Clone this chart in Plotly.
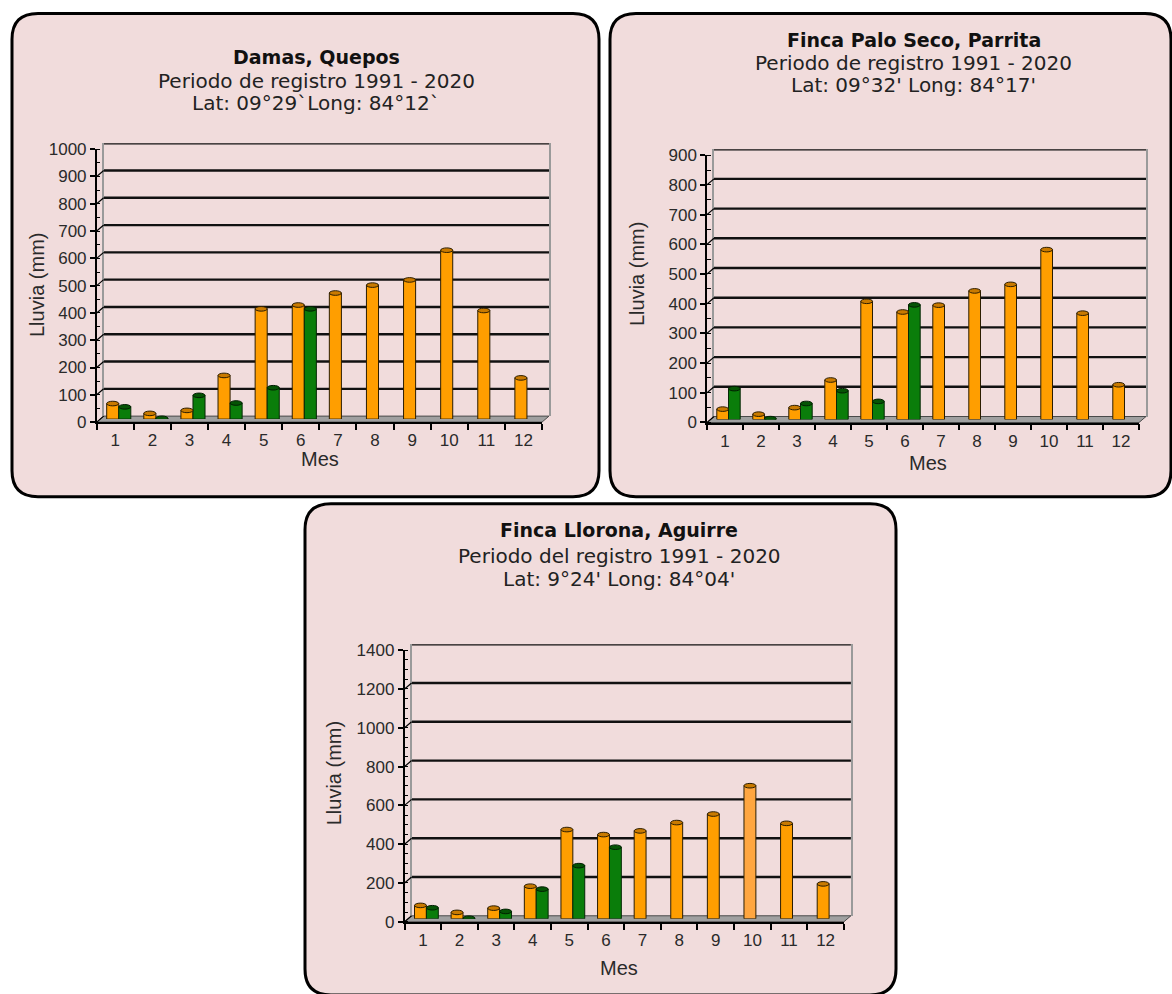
import plotly.graph_objects as go

# ---- data: monthly rainfall (mm) ----
MESES = [1, 2, 3, 4, 5, 6, 7, 8, 9, 10, 11, 12]
MES_LABELS = ["1", "2", "3", "4", "5", "6", "7", "8", "9", "10", "11", "12"]

damas_naranja = [57, 21, 32, 160, 404, 418, 462, 491, 510, 619, 398, 151]
damas_verde = [45, 3, 87, 59, 115, 404, None, None, None, None, None, None]

palo_naranja = [35, 18, 40, 133, 398, 362, 385, 433, 455, 572, 358, 117]
palo_verde = [104, 3, 54, 97, 61, 386, None, None, None, None, None, None]

llorona_naranja = [69, 33, 55, 168, 460, 434, 453, 496, 540, 686, 492, 180]
llorona_verde = [57, 3, 38, 153, 274, 369, None, None, None, None, None, None]

TITULOS = [
    ("Damas, Quepos", "Periodo de registro 1991 - 2020", "Lat: 09°29`Long: 84°12`"),
    ("Finca Palo Seco, Parrita", "Periodo de registro 1991 - 2020", "Lat: 09°32' Long: 84°17'"),
    ("Finca Llorona, Aguirre", "Periodo del registro 1991 - 2020", "Lat: 9°24' Long: 84°04'"),
]

# ---- page geometry (pixels) ----
W, H = 1172, 994
PAGE_TOP, PAGE_SCALE = 8.6, 0.9823   # vertical placement of the page content
DX, DY = 7, 6                        # depth offset of the back wall
BARGAP = 0.35
PINK = "#F1DCDC"
NARANJA = "#FF9E00"
VERDE = "#0A7D0A"

paneles = [
    dict(box=(12, 13, 599, 497), plot=(96.7, 542, 149, 422.3), top=1000, dtick=100,
         naranja=damas_naranja, verde=damas_verde,
         title_x=316, title_y=(57, 81, 103), ytitle=(37, 285), xtitle=(320, 459)),
    dict(box=(610, 13, 1171, 497), plot=(707, 1139, 155, 422.7), top=900, dtick=100,
         naranja=palo_naranja, verde=palo_verde,
         title_x=914, title_y=(40, 63, 85), ytitle=(637, 274), xtitle=(928, 463)),
    dict(box=(305, 504, 896, 996), plot=(404.6, 843.9, 650.7, 922.7), top=1400, dtick=200,
         naranja=llorona_naranja, verde=llorona_verde,
         title_x=619, title_y=(530, 556, 579), ytitle=(334, 774), xtitle=(619, 969)),
]


def fx(x):
    return x / W


def fy(y):
    return 1 - ((y - PAGE_TOP) / PAGE_SCALE) / H


def rounded_rect(x0, y0, x1, y1, r):
    pts = [
        f"M{fx(x0 + r)},{fy(y0)}",
        f"L{fx(x1 - r)},{fy(y0)}",
        f"Q{fx(x1)},{fy(y0)} {fx(x1)},{fy(y0 + r)}",
        f"L{fx(x1)},{fy(y1 - r)}",
        f"Q{fx(x1)},{fy(y1)} {fx(x1 - r)},{fy(y1)}",
        f"L{fx(x0 + r)},{fy(y1)}",
        f"Q{fx(x0)},{fy(y1)} {fx(x0)},{fy(y1 - r)}",
        f"L{fx(x0)},{fy(y0 + r)}",
        f"Q{fx(x0)},{fy(y0)} {fx(x0 + r)},{fy(y0)}",
        "Z",
    ]
    return " ".join(pts)


def ax(n):
    return "" if n == 1 else str(n)


fig = go.Figure()
layout = dict(
    width=W, height=H, margin=dict(l=0, r=0, t=0, b=0),
    paper_bgcolor="white", plot_bgcolor="rgba(0,0,0,0)",
    showlegend=False, barmode="group", bargap=BARGAP, bargroupgap=0,
)
shapes = []
annotations = []

tick_font = dict(family="Liberation Sans, Arial, sans-serif", size=17, color="#2a2a2a")
title_family = "DejaVu Sans, Verdana, sans-serif"
label_family = "Liberation Sans, Arial, sans-serif"

for i, p in enumerate(paneles):
    L, R, T, B = p["plot"]
    top = p["top"]
    n_back, n_mid, n_front = 3 * i + 1, 3 * i + 2, 3 * i + 3
    xb, yb = f"x{ax(n_back)}", f"y{ax(n_back)}"
    xm, ym = f"x{ax(n_mid)}", f"y{ax(n_mid)}"
    xf, yf = f"x{ax(n_front)}", f"y{ax(n_front)}"

    # panel background with rounded border
    bx0, by0, bx1, by1 = p["box"]
    shapes.append(dict(type="path", xref="paper", yref="paper", layer="below",
                       path=rounded_rect(bx0, by0, bx1, by1, 26),
                       fillcolor=PINK, line=dict(color="black", width=3)))
    # floor of the 3D box
    floor = (f"M{fx(L)},{fy(B)} L{fx(R)},{fy(B)} L{fx(R + DX)},{fy(B - DY)} "
             f"L{fx(L + DX)},{fy(B - DY)} Z")
    shapes.append(dict(type="path", xref="paper", yref="paper", layer="below",
                       path=floor, fillcolor="#A0A0A0", line=dict(color="#4a4a4a", width=1)))

    # back wall: grey side edges, black gridlines
    layout[f"xaxis{ax(n_back)}"] = dict(
        domain=[fx(L + DX), fx(R + DX)], range=[0.5, 12.5], anchor=yb,
        visible=False, fixedrange=True)
    layout[f"yaxis{ax(n_back)}"] = dict(
        domain=[fy(B - DY), fy(T - DY)], range=[0, top], anchor=xb,
        showgrid=False, showline=True, linecolor="#9a9a9a", linewidth=2, mirror=True,
        showticklabels=False, ticks="", zeroline=False, fixedrange=True)
    fig.add_trace(go.Scatter(x=[], y=[], xaxis=xb, yaxis=yb, hoverinfo="skip"))
    v = p["dtick"]
    while v <= top:
        shapes.append(dict(type="line", xref=f"{xb} domain", x0=0, x1=1,
                           yref=yb, y0=v, y1=v, layer="below",
                           line=dict(color="#111111", width=2.4)))
        v += p["dtick"]

    # bars sit halfway into the depth
    layout[f"xaxis{ax(n_mid)}"] = dict(
        domain=[fx(L + DX / 2), fx(R + DX / 2)], range=[0.5, 12.5], anchor=ym,
        visible=False, fixedrange=True)
    layout[f"yaxis{ax(n_mid)}"] = dict(
        domain=[fy(B - DY / 2), fy(T - DY / 2)], range=[0, top], anchor=xm,
        visible=False, fixedrange=True)
    colores_naranja = [NARANJA] * 12
    if i == 2:
        colores_naranja[9] = "#FFA640"
    fig.add_trace(go.Bar(x=MESES, y=p["naranja"], xaxis=xm, yaxis=ym,
                         marker=dict(color=colores_naranja, line=dict(color="#2b1d00", width=1))))
    fig.add_trace(go.Bar(x=MESES, y=p["verde"], xaxis=xm, yaxis=ym,
                         marker=dict(color=VERDE, line=dict(color="#062806", width=1))))

    # elliptical caps on the cylinder tops
    cat_px = (R - L) / 12
    bar_w = (1 - BARGAP) / 2
    half_px = bar_w * cat_px / 2
    for serie, off, fill, edge in ((p["naranja"], -bar_w / 2, "#C97A00", "#2b1d00"),
                                   (p["verde"], bar_w / 2, "#055405", "#021f02")):
        for m, val in zip(MESES, serie):
            if val is None:
                continue
            shapes.append(dict(type="circle", xref=xm, yref=ym,
                               xsizemode="pixel", xanchor=m + off, x0=-half_px, x1=half_px,
                               ysizemode="pixel", yanchor=val, y0=-2.3, y1=2.3,
                               fillcolor=fill, line=dict(color=edge, width=1), layer="above"))

    # front axes: ticks and labels
    layout[f"xaxis{ax(n_front)}"] = dict(
        domain=[fx(L), fx(R)], range=[0.5, 12.5], anchor=yf,
        tickvals=MESES, ticktext=MES_LABELS, ticks="", tickfont=tick_font,
        showline=True, linecolor="black", linewidth=1.5, showgrid=False, zeroline=False,
        minor=dict(tickvals=[m - 0.5 for m in MESES] + [12.5], ticks="outside",
                   ticklen=6, tickcolor="black", tickwidth=1.5, showgrid=False),
        ticklabelstandoff=2, fixedrange=True)
    layout[f"yaxis{ax(n_front)}"] = dict(
        domain=[fy(B), fy(T)], range=[0, top], anchor=xf,
        dtick=p["dtick"], ticks="outside", ticklen=5, tickcolor="black", tickwidth=1.5,
        tickfont=tick_font, showline=True, linecolor="black", linewidth=1.5,
        showgrid=False, zeroline=False, ticklabelstandoff=0,
        minor=dict(dtick=50, ticks="inside", ticklen=4, tickcolor="black", tickwidth=1,
                   showgrid=False),
        fixedrange=True)
    fig.add_trace(go.Scatter(x=[], y=[], xaxis=xf, yaxis=yf, hoverinfo="skip"))

    # short depth connectors from front ticks to back gridlines
    v = 0
    while v <= top:
        shapes.append(dict(type="line", xref=xf, yref=yf,
                           xsizemode="pixel", xanchor=0.5, x0=0, x1=DX,
                           ysizemode="pixel", yanchor=v, y0=0, y1=DY,
                           line=dict(color="black", width=1.2), layer="above"))
        v += p["dtick"]

    # titles
    t1, t2, t3 = TITULOS[i]
    ty = p["title_y"]
    annotations.append(dict(text=f"<b>{t1}</b>", x=fx(p["title_x"]), y=fy(ty[0]),
                            xref="paper", yref="paper", showarrow=False,
                            xanchor="center", yanchor="middle",
                            font=dict(family=title_family, size=19, color="#111111")))
    for txt, yy in ((t2, ty[1]), (t3, ty[2])):
        annotations.append(dict(text=txt, x=fx(p["title_x"]), y=fy(yy),
                                xref="paper", yref="paper", showarrow=False,
                                xanchor="center", yanchor="middle",
                                font=dict(family=title_family, size=20, color="#222222")))
    # axis titles
    annotations.append(dict(text="Lluvia (mm)", x=fx(p["ytitle"][0]), y=fy(p["ytitle"][1]),
                            xref="paper", yref="paper", showarrow=False, textangle=-90,
                            xanchor="center", yanchor="middle",
                            font=dict(family=label_family, size=20, color="#2a2a2a")))
    annotations.append(dict(text="Mes", x=fx(p["xtitle"][0]), y=fy(p["xtitle"][1]),
                            xref="paper", yref="paper", showarrow=False,
                            xanchor="center", yanchor="middle",
                            font=dict(family=label_family, size=20, color="#2a2a2a")))

layout["shapes"] = shapes
layout["annotations"] = annotations
fig.update_layout(**layout)
fig.write_html("out.html")
